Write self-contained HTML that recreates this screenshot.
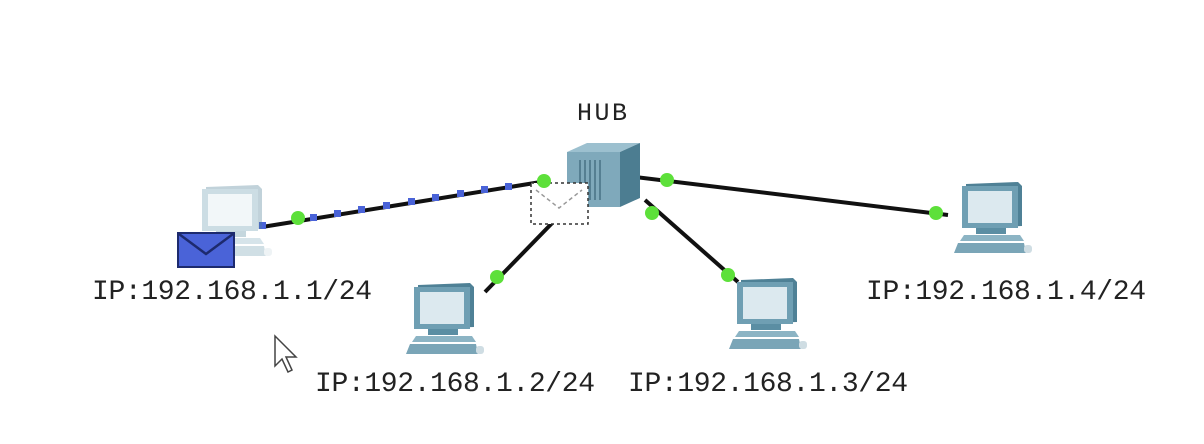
<!DOCTYPE html>
<html><head><meta charset="utf-8"><style>
html,body{margin:0;padding:0;background:#fff;width:1204px;height:444px;overflow:hidden}
text{font-family:"Liberation Mono","Noto Sans CJK SC",monospace;fill:#222}
</style></head><body>
<svg width="1204" height="444" viewBox="0 0 1204 444" xmlns="http://www.w3.org/2000/svg">
<defs>
<g id="pc">
 <polygon points="8,2 60,0 64,4 64,44 8,46" fill="#4f8196"/>
 <rect x="4" y="4" width="56" height="42" fill="#6f9fb3"/>
 <rect x="10" y="9" width="44" height="32" fill="#dce9ef"/>
 <rect x="18" y="46" width="30" height="6" fill="#5b8ea3"/>
 <polygon points="6,53 62,53 66,59 2,59" fill="#8cb4c4"/>
 <polygon points="0,61 66,61 68,71 -4,71" fill="#7aa5b7"/>
 <rect x="66" y="63" width="8" height="8" rx="3" fill="#cfdde3"/>
</g>
</defs>
<line x1="262" y1="227" x2="547" y2="181" stroke="#111" stroke-width="4"/>
<g fill="#4a63d8">
 <rect x="259" y="222" width="7" height="7"/><rect x="310" y="214" width="7" height="7"/>
 <rect x="334" y="210" width="7" height="7"/><rect x="358" y="206" width="7" height="7"/>
 <rect x="383" y="202" width="7" height="7"/><rect x="408" y="198" width="7" height="7"/>
 <rect x="432" y="194" width="7" height="7"/><rect x="457" y="190" width="7" height="7"/>
 <rect x="481" y="186" width="7" height="7"/><rect x="505" y="183" width="7" height="7"/>
</g>
<line x1="485" y1="292" x2="560" y2="215" stroke="#111" stroke-width="4"/>
<line x1="738" y1="282" x2="645" y2="200" stroke="#111" stroke-width="4"/>
<line x1="948" y1="215" x2="635" y2="177" stroke="#111" stroke-width="4"/>
<polygon points="567,152 587,143 640,143 620,152" fill="#9cc0cf"/>
<rect x="567" y="152" width="53" height="55" fill="#7fa9bb"/>
<polygon points="620,152 640,143 640,198 620,207" fill="#4c7d91"/>
<g stroke="#557f92" stroke-width="2"><line x1="580" y1="160" x2="580" y2="200"/><line x1="585" y1="160" x2="585" y2="200"/><line x1="590" y1="160" x2="590" y2="200"/><line x1="595" y1="160" x2="595" y2="200"/><line x1="600" y1="160" x2="600" y2="200"/></g>
<rect x="531" y="183" width="57" height="41" fill="#fff" stroke="#333" stroke-width="1.5" stroke-dasharray="3,3"/>
<path d="M536 190 L559 208 L582 190" fill="none" stroke="#999" stroke-width="1.5" stroke-dasharray="4,3"/>
<g opacity="0.35"><use href="#pc" x="198" y="185"/></g>
<use href="#pc" x="410" y="283"/>
<use href="#pc" x="733" y="278"/>
<use href="#pc" x="958" y="182"/>
<rect x="178" y="233" width="56" height="34" fill="#4a63d8" stroke="#1d2a6e" stroke-width="2"/>
<path d="M179 234 L206 254 L233 234" fill="none" stroke="#1d2a6e" stroke-width="2.5"/>
<g fill="#5de03a">
 <circle cx="298" cy="218" r="7"/><circle cx="544" cy="181" r="7"/>
 <circle cx="497" cy="277" r="7"/><circle cx="652" cy="213" r="7"/>
 <circle cx="728" cy="275" r="7"/><circle cx="667" cy="180" r="7"/>
 <circle cx="936" cy="213" r="7"/>
</g>
<text x="577" y="120" font-size="25" textLength="50">HUB</text>
<text x="92" y="299" font-size="28" textLength="280">IP:192.168.1.1/24</text>
<text x="315" y="391" font-size="28" textLength="280">IP:192.168.1.2/24</text>
<text x="628" y="391" font-size="28" textLength="280">IP:192.168.1.3/24</text>
<text x="866" y="299" font-size="28" textLength="280">IP:192.168.1.4/24</text>
<path d="M275 336 L275 366 L282 359 L288 372 L292 370 L286 357 L296 357 Z" fill="#fff" stroke="#444" stroke-width="1.5"/>
</svg>
</body></html>
